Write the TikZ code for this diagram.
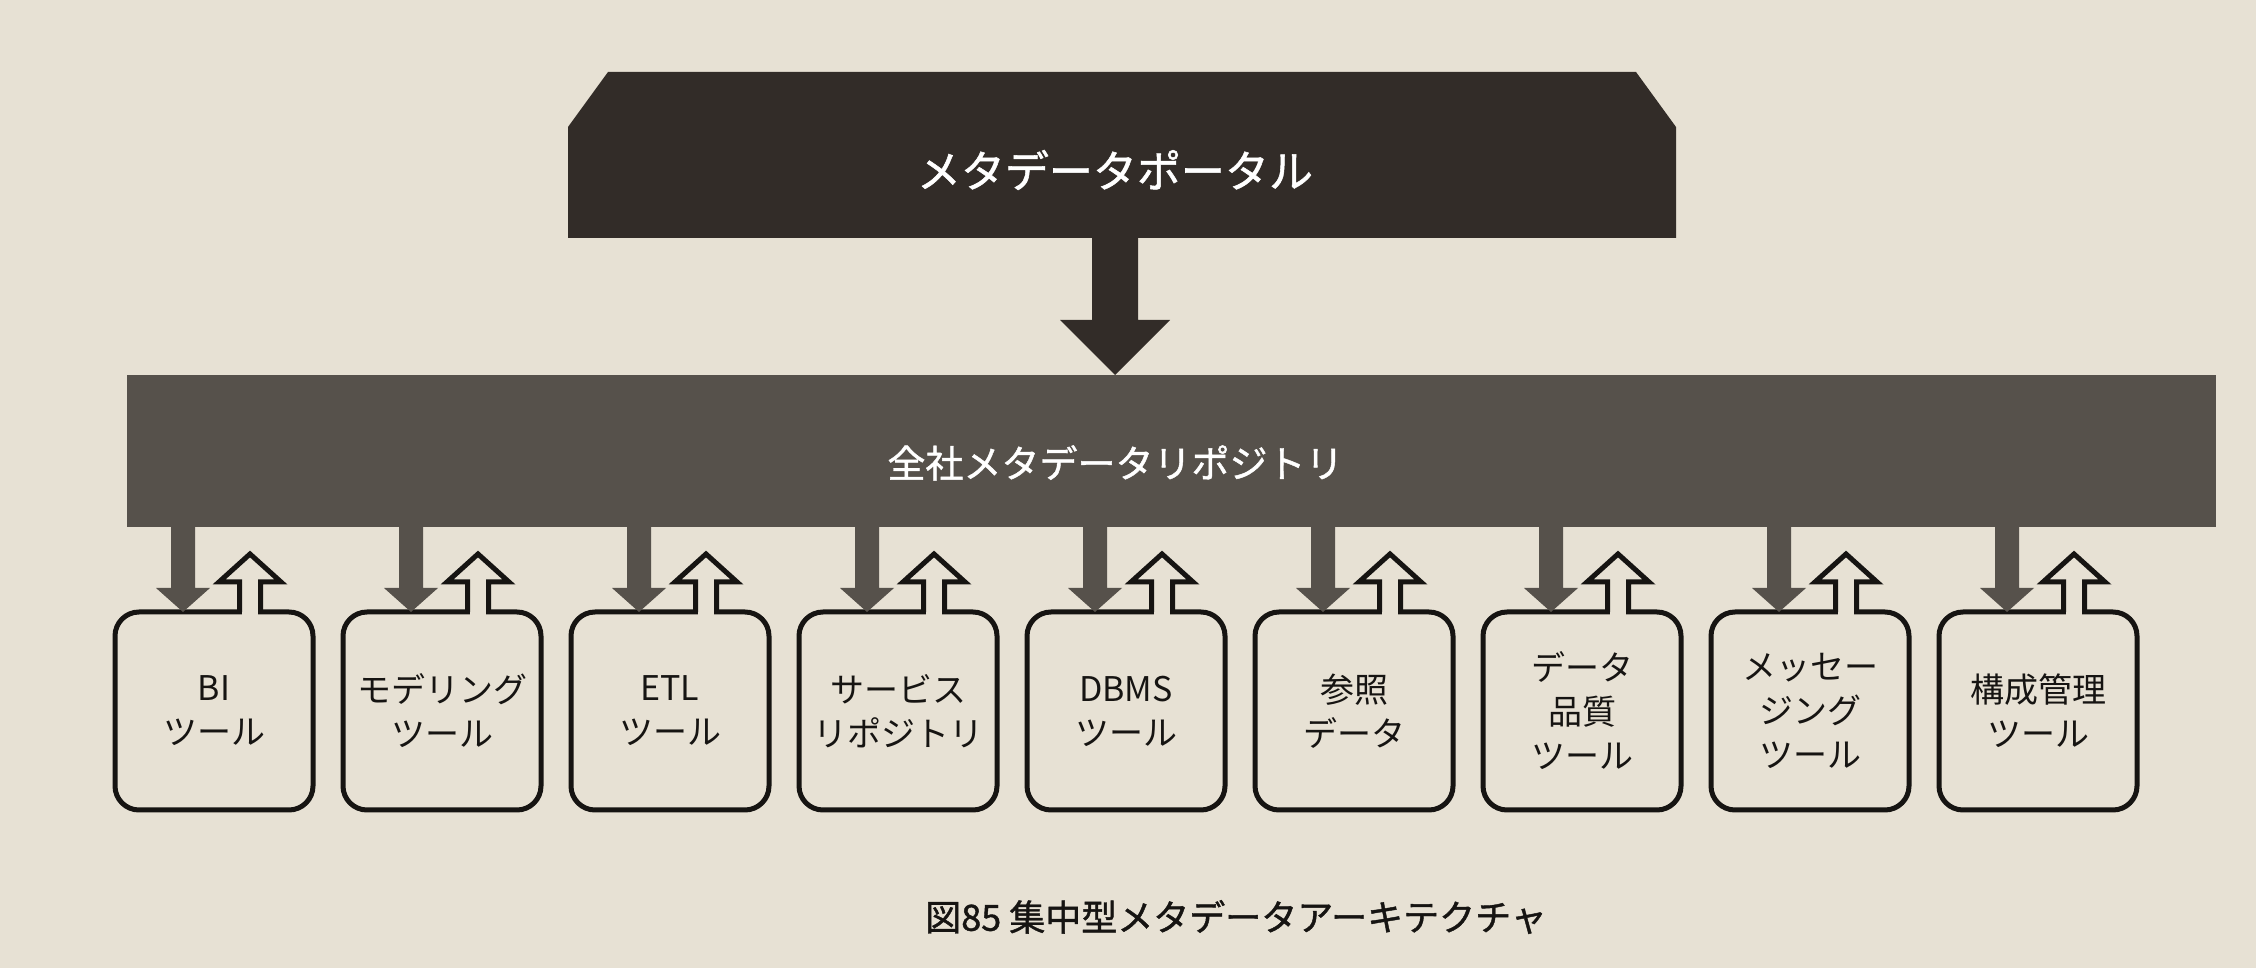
\documentclass[tikz,border=0pt]{standalone}
\usepackage{fontspec}
\setmainfont{Noto Sans CJK JP}
\newfontfamily\medfont[FakeBold=1.2]{Noto Sans CJK JP}
\usetikzlibrary{calc,backgrounds}
\definecolor{paper}{HTML}{E7E1D4}
\definecolor{portalc}{HTML}{322C28}
\definecolor{repoc}{HTML}{56514B}
\definecolor{inkc}{HTML}{161412}
\begin{document}
\begin{tikzpicture}[x=1pt,y=1pt,
  toolbox/.style={draw=inkc, line width=5pt, fill=paper, rounded corners=24pt,
    minimum width=198pt, minimum height=198pt, inner sep=0pt, outer sep=0pt,
    align=center, font=\fontsize{34}{44}\selectfont, text=inkc},
  uparr/.style={draw=inkc, fill=paper, line width=5pt, line join=miter},
  dnarr/.style={fill=repoc},
  bigarr/.style={fill=portalc},
  blockshape/.style={inner sep=0pt, outer sep=0pt},
  whitelabel/.style={text=white, inner sep=0pt}]
\useasboundingbox (0,0) rectangle (2256,968);
\begin{scope}[on background layer]
  \fill[paper] (0,0) rectangle (2256,968);
\end{scope}

% portal
\node[blockshape, minimum width=1108pt, minimum height=166pt] (portal) at (1122,813) {};
\fill[portalc] (portal.south west) -- ([yshift=-55pt]portal.north west)
  -- ([xshift=40pt]portal.north west) -- ([xshift=-40pt]portal.north east)
  -- ([yshift=-55pt]portal.north east) -- (portal.south east) -- cycle;
\node[whitelabel, font=\medfont\fontsize{44}{48}\selectfont] (portallabel) at ($(portal.center)+(-7,-15)$) {メタデータポータル};

% repository
\node[blockshape, fill=repoc, minimum width=2089pt, minimum height=152pt] (repo) at (1171.5,517) {};
\node[whitelabel, font=\medfont\fontsize{38}{42}\selectfont] (repolabel) at ($(repo.center)+(-56,-12)$) {全社メタデータリポジトリ};

% portal -> repository arrow
\fill[bigarr] let \p1=(portal.south), \p2=(repo.north) in
  (\x1-30pt,\y1+1pt) -- (\x1-30pt,\y2+55pt) -- (\x1-62pt,\y2+55pt) -- (\x1-7pt,\y2)
  -- (\x1+48pt,\y2+55pt) -- (\x1+16pt,\y2+55pt) -- (\x1+16pt,\y1+1pt) -- cycle;

% tool boxes
\foreach \i/\t in {1/{BI\\ツール},2/{モデリング\\ツール},3/{ETL\\ツール},4/{サービス\\リポジトリ},5/{DBMS\\ツール},6/{参照\\データ},7/{データ\\品質\\ツール},8/{メッセー\\ジング\\ツール},9/{構成管理\\ツール}} {
  \node[toolbox] (b\i) at ({214+228*(\i-1)},257) {\t};
}

% arrows between repository and boxes
\foreach \i in {1,...,9} {
  \coordinate (dn\i) at ($(b\i.north)+(-31,0)$);
  \coordinate (up\i) at ($(b\i.north)+(36,0)$);
  \fill[dnarr] let \p1=(dn\i), \p2=(repo.south) in
    (\x1-12pt,\y2+1pt) -- (\x1-12pt,\y1+24pt) -- (\x1-27pt,\y1+24pt) -- (\x1,\y1)
    -- (\x1+27pt,\y1+24pt) -- (\x1+12pt,\y1+24pt) -- (\x1+12pt,\y2+1pt) -- cycle;
  \fill[paper] ($(up\i)+(-8,-3)$) rectangle ($(up\i)+(8,1)$);
  \filldraw[uparr] ($(up\i)+(-10.5,0)$) -- ($(up\i)+(-10.5,30)$) -- ($(up\i)+(-31,30)$)
    -- ($(up\i)+(0,58)$) -- ($(up\i)+(31,30)$) -- ($(up\i)+(10.5,30)$) -- ($(up\i)+(10.5,0)$);
}

% caption
\node[font=\medfont\fontsize{36}{40}\selectfont, text=inkc] (caption) at (1236,51) {図85 集中型メタデータアーキテクチャ};
\end{tikzpicture}
\end{document}
